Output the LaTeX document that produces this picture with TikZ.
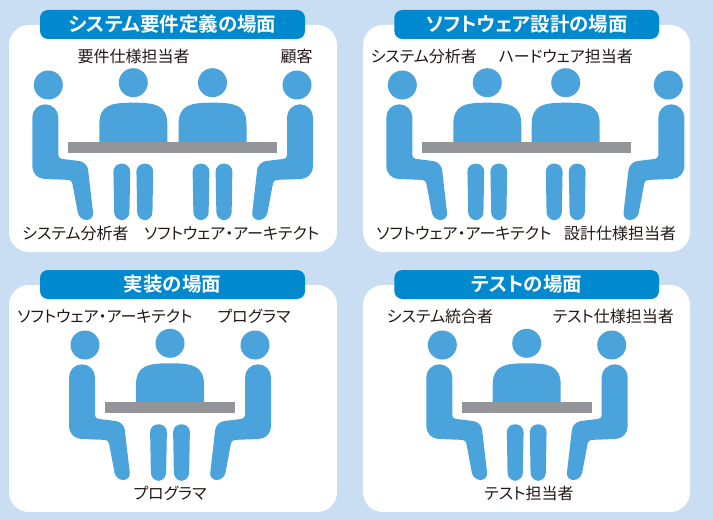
\documentclass[tikz,border=0pt]{standalone}
\usepackage{fontspec}
\newfontfamily\jpfont{Noto Sans CJK JP}[RawFeature={+palt},BoldFont={* Bold}]

\definecolor{bgblue}{RGB}{201,222,242}
\definecolor{tabblue}{RGB}{0,137,207}
\definecolor{figblue}{RGB}{75,163,219}
\definecolor{tablegray}{RGB}{147,149,152}
\definecolor{inkblack}{RGB}{35,24,21}

\tikzset{
  role/.style={font=\jpfont\fontsize{12}{14}\selectfont, text=inkblack, inner sep=0pt},
  scene/.style={font=\jpfont\bfseries\fontsize{14.6}{17}\selectfont, text=white, inner sep=0pt},
  card/.style={fill=white, rounded corners=15pt},
  tab/.style={fill=tabblue, rounded corners=6pt},
  desk/.style={fill=tablegray},
  % person seen from the side, facing right
  sitter/.pic={
    \fill[figblue] (0,0) circle[radius=14.5];
    \fill[figblue] (-16,32.3) arc[start angle=180, end angle=360, radius=13]
      [rounded corners=2.5pt] -- (10,73.5)
      [rounded corners=6pt] -- (38.9,77)
      [rounded corners=5.5pt] -- (45.6,135) -- (30.9,135)
      [rounded corners=2.5pt] -- (23.4,95)
      [rounded corners=9pt] -- (-16,93.5) [sharp corners] -- cycle;
  },
  % person behind the desk
  backer/.pic={
    \fill[figblue] (0,0) circle[radius=14.5];
    \fill[figblue] (-34,62) -- (-34,42) .. controls (-34,22) and (-22,20) .. (0,20)
      .. controls (22,20) and (34,22) .. (34,42) -- (34,62) -- cycle;
    \foreach \lx in {-11.5,11.5}
      \fill[figblue, rounded corners=6pt] (\lx-8.5,81) -- (\lx+8.5,81)
        -- (\lx+7.5,137.5) -- (\lx-7.5,137.5) -- cycle;
  },
}

\begin{document}
\begin{tikzpicture}[x=0.75pt, y=-0.75pt]
\useasboundingbox (0,0) rectangle (713,520);
\fill[bgblue] (0,0) rectangle (713,520);

% requirements
\fill[card] (9,25) rectangle (337,252);
\fill[tab] (40,10) rectangle (305,39);
\node[scene] (t1) at (172.5,24.5) {システム要件定義の場面};
\pic at (48.3,85) {sitter};
\pic at (133.3,82.7) {backer};
\pic at (212.5,82.7) {backer};
\pic[xscale=-1] at (297,85) {sitter};
\fill[desk] (68,141.7) rectangle (277,152.7);
\node[role] (req1) at (133.5,56.5) {要件仕様担当者};
\node[role] (req2) at (296.7,56.5) {顧客};
\node[role] (req3) at (75.5,233) {システム分析者};
\node[role] (req4) at (231.7,233) {ソフトウェア・アーキテクト};

% software design
\fill[card] (363,25) rectangle (690,252);
\fill[tab] (394.3,10) rectangle (659,39);
\node[scene] (t2) at (526.7,24.5) {ソフトウェア設計の場面};
\pic at (402.3,85) {sitter};
\pic at (487.3,82.7) {backer};
\pic at (565.7,82.7) {backer};
\pic[xscale=-1] at (668.3,85) {sitter};
\fill[desk] (421.7,141.7) rectangle (631,152.7);
\node[role] (des1) at (423.8,56.5) {システム分析者};
\node[role] (des2) at (565.8,56.5) {ハードウェア担当者};
\node[role] (des3) at (464,233) {ソフトウェア・アーキテクト};
\node[role] (des4) at (620,233) {設計仕様担当者};

% implementation
\fill[card] (9,285) rectangle (337,512);
\fill[tab] (40,270) rectangle (305,299);
\node[scene] (t3) at (172.5,284.5) {実装の場面};
\pic at (85,345) {sitter};
\pic at (170,343.3) {backer};
\pic[xscale=-1] at (255,345) {sitter};
\fill[desk] (105,401.7) rectangle (235,412.7);
\node[role] (imp1) at (105,316) {ソフトウェア・アーキテクト};
\node[role] (imp2) at (254,316) {プログラマ};
\node[role] (imp3) at (170,493) {プログラマ};

% test
\fill[card] (363,285) rectangle (690,512);
\fill[tab] (394.3,270) rectangle (659,299);
\node[scene] (t4) at (526.7,284.5) {テストの場面};
\pic at (442.3,345) {sitter};
\pic at (526.7,343.3) {backer};
\pic[xscale=-1] at (611.7,345) {sitter};
\fill[desk] (462.3,401.7) rectangle (591.7,412.7);
\node[role] (tst1) at (440,316) {システム統合者};
\node[role] (tst2) at (613.3,316) {テスト仕様担当者};
\node[role] (tst3) at (529,493) {テスト担当者};
\end{tikzpicture}
\end{document}
